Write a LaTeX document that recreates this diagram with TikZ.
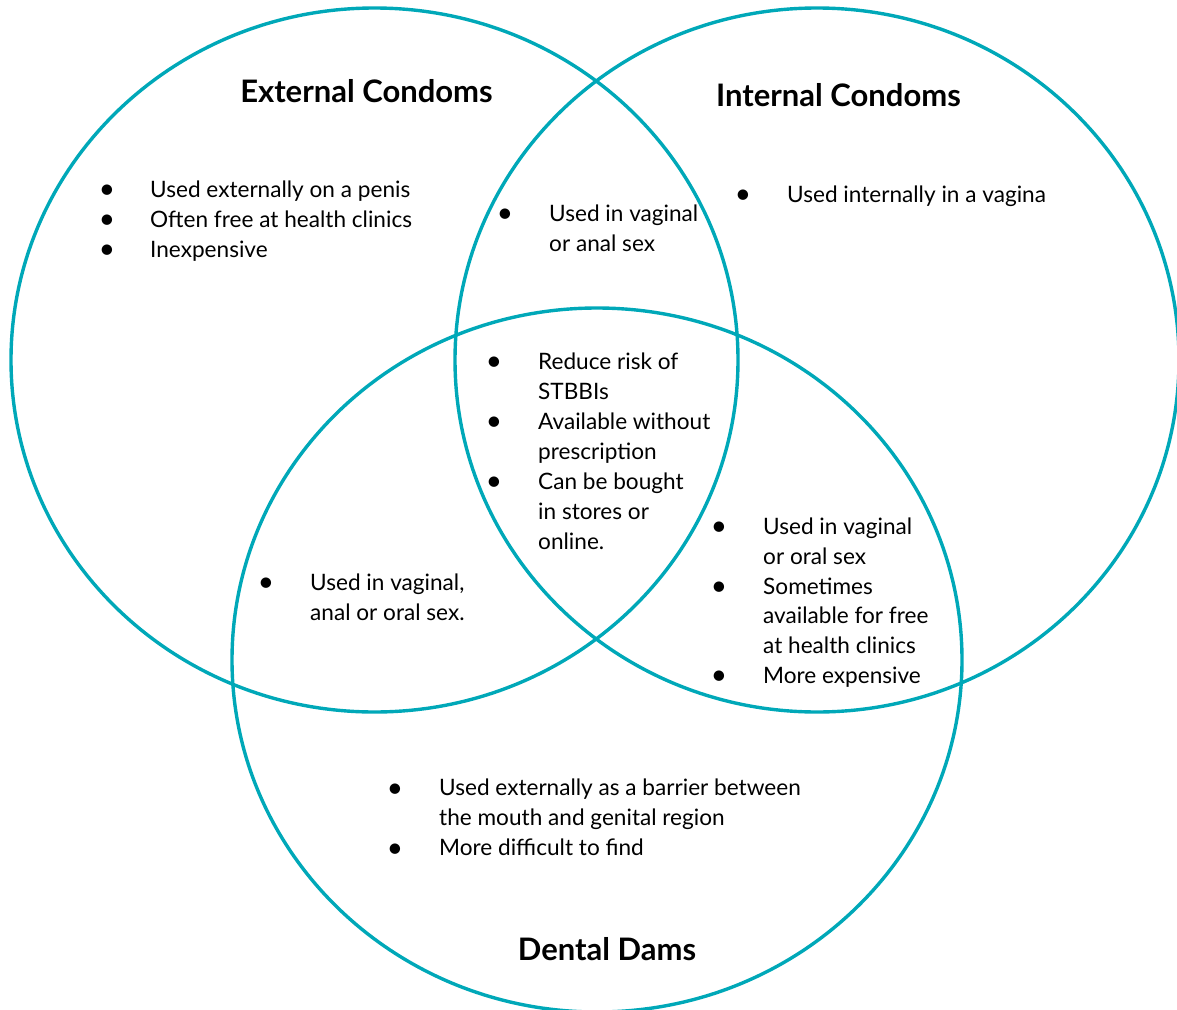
\documentclass[tikz,border=0pt]{standalone}
\usepackage{fontspec}
\setmainfont{Lato}
\definecolor{venncol}{RGB}{0,168,184}
\begin{document}
\begin{tikzpicture}[x=1pt,y=-1pt,
  ring/.style={draw=venncol,line width=3.4pt},
  body/.style={font=\fontsize{22.6}{30}\selectfont,inner sep=0pt,anchor=base west},
  bul/.style={font=\fontsize{28}{30}\selectfont,inner sep=0pt,anchor=center,yshift=-2pt},
  ttl/.style={font=\fontsize{31}{34}\selectfont\bfseries,inner sep=0pt,anchor=base}]
\useasboundingbox (0,0) rectangle (1177,1009);
\draw[ring] (374.5,360) ellipse [x radius=363.5, y radius=352];
\draw[ring] (817,360) ellipse [x radius=362, y radius=352];
\draw[ring] (597,660) ellipse [x radius=365, y radius=352];
% titles
\node[ttl] (t1) at (366.5,102) {External Condoms};
\node[ttl] (t2) at (838.5,106) {Internal Condoms};
\node[ttl] (t3) at (607,960) {Dental Dams};
% external only
\node[bul] (a1b) at (107,190) {•};
\node[body] (a1) at (150,197) {Used externally on a penis};
\node[bul] (a2b) at (107,220) {•};
\node[body] (a2) at (150,227) {Often free at health clinics};
\node[bul] (a3b) at (107,250) {•};
\node[body] (a3) at (150,257) {Inexpensive};
% external & internal
\node[bul] (b1b) at (505,214) {•};
\node[body] (b1) at (549,221) {Used in vaginal};
\node[body] (b2) at (549,251) {or anal sex};
% internal only
\node[bul] (c1b) at (743,195) {•};
\node[body] (c1) at (787,202) {Used internally in a vagina};
% centre
\node[bul] (d1b) at (494,362) {•};
\node[body] (d1) at (538,369) {Reduce risk of};
\node[body] (d2) at (538,399) {STBBIs};
\node[bul] (d3b) at (494,422) {•};
\node[body] (d3) at (538,429) {Available without};
\node[body] (d4) at (538,459) {prescription};
\node[bul] (d5b) at (494,482) {•};
\node[body] (d5) at (538,489) {Can be bought};
\node[body] (d6) at (538,519) {in stores or};
\node[body] (d7) at (538,549) {online.};
% internal & dental
\node[bul] (e1b) at (719,527) {•};
\node[body] (e1) at (763,534) {Used in vaginal};
\node[body] (e2) at (763,564) {or oral sex};
\node[bul] (e3b) at (719,587) {•};
\node[body] (e3) at (763,594) {Sometimes};
\node[body] (e4) at (763,623) {available for free};
\node[body] (e5) at (763,653) {at health clinics};
\node[bul] (e6b) at (719,676) {•};
\node[body] (e6) at (763,683) {More expensive};
% external & dental
\node[bul] (f1b) at (266,583) {•};
\node[body] (f1) at (310,590) {Used in vaginal,};
\node[body] (f2) at (310,620) {anal or oral sex.};
% dental only
\node[bul] (g1b) at (395,789) {•};
\node[body] (g1) at (439,795) {Used externally as a barrier between};
\node[body] (g2) at (439,825) {the mouth and genital region};
\node[bul] (g3b) at (395,849) {•};
\node[body] (g3) at (439,855) {More difficult to find};
\end{tikzpicture}
\end{document}
